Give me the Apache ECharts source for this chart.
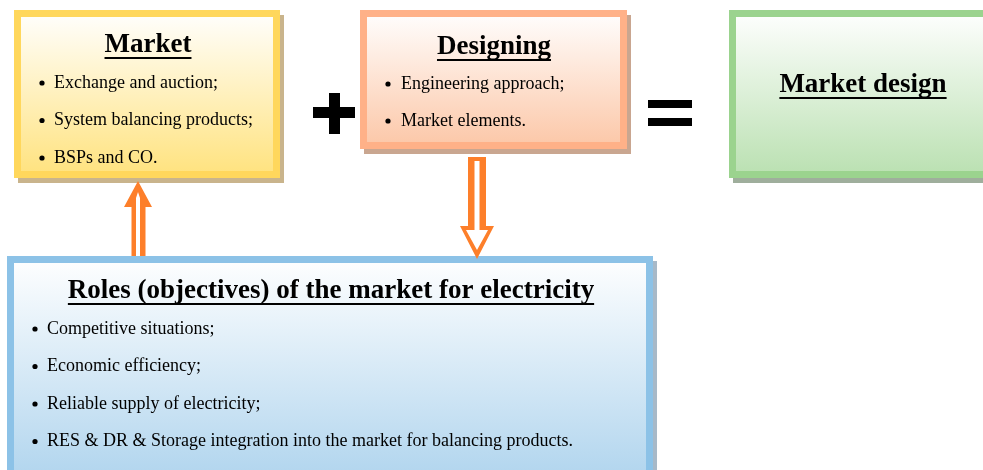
<!DOCTYPE html>
<html>
<head>
<meta charset="utf-8">
<script src="https://cdn.jsdelivr.net/npm/echarts@6/dist/echarts.min.js"></script>
<style>
  html, body { margin: 0; padding: 0; background: #fff; }
  #main { width: 983px; height: 470px; }
</style>
</head>
<body>
<div id="main"></div>
<script>
// texts of the diagram
var marketTitle = 'Market'
var marketItems = ['Exchange and auction;', 'System balancing products;', 'BSPs and CO.']
var designTitle = 'Designing'
var designItems = ['Engineering approach;', 'Market elements.']
var resultTitle = 'Market design'
var rolesTitle = 'Roles (objectives) of the market for electricity'
var rolesItems = [
  'Competitive situations;',
  'Economic efficiency;',
  'Reliable supply of electricity;',
  'RES & DR & Storage integration into the market for balancing products.'
]

var FONT = '"Liberation Serif", "Times New Roman", serif'
var ORANGE = '#fd7f2a'

var ctx = document.createElement('canvas').getContext('2d')
function textWidth(txt, size, weight) {
  ctx.font = weight + ' ' + size + 'px ' + FONT
  return ctx.measureText(txt).width
}

var elements = []

// box with border, shadow and vertical gradient
function box(x, y, w, h, border, bottom, shadow) {
  var bw = 7
  elements.push({
    type: 'rect', silent: true,
    shape: { x: x + 4, y: y + 5, width: w, height: h },
    style: { fill: shadow }
  })
  elements.push({
    type: 'rect', silent: true,
    shape: { x: x + bw / 2, y: y + bw / 2, width: w - bw, height: h - bw },
    style: {
      fill: new echarts.graphic.LinearGradient(0, 0, 0, 1, [
        { offset: 0, color: '#ffffff' },
        { offset: 1, color: bottom }
      ]),
      stroke: border, lineWidth: bw
    }
  })
}

// bold underlined title, centred on cx, baseline at by
function title(txt, cx, by, size) {
  var w = textWidth(txt, size, 'bold')
  elements.push({
    type: 'text', silent: true,
    style: {
      text: txt, x: cx, y: by, fill: '#000',
      fontFamily: FONT, fontSize: size, fontWeight: 'bold',
      align: 'center', verticalAlign: 'bottom'
    }
  })
  elements.push({
    type: 'rect', silent: true,
    shape: { x: cx - w / 2, y: by - 2, width: w, height: 2 },
    style: { fill: '#000' }
  })
}

function bullets(items, bx, tx, y0, step, size) {
  items.forEach(function (t, i) {
    var y = y0 + i * step
    elements.push({
      type: 'circle', silent: true,
      shape: { cx: bx, cy: y, r: 2.6 },
      style: { fill: '#000' }
    })
    elements.push({
      type: 'text', silent: true,
      style: {
        text: t, x: tx, y: y, fill: '#000',
        fontFamily: FONT, fontSize: size,
        align: 'left', verticalAlign: 'middle'
      }
    })
  })
}

// Market
box(14, 10, 266, 168, '#ffd75c', '#ffe27c', '#c9b48c')
title(marketTitle, 148, 59, 27)
bullets(marketItems, 42, 54, 83, 37.5, 18)

// Designing
box(360, 10, 267, 139, '#ffb188', '#fcc6a6', '#c9a690')
title(designTitle, 494, 61, 27)
bullets(designItems, 388, 401, 84, 37, 18)

// Market design
box(729, 10, 262, 168, '#9bd38e', '#b9e0b0', '#9fae9c')
title(resultTitle, 863, 99, 27)

// Roles
box(7, 256, 646, 222, '#8cc2e7', '#b1d5ee', '#a7b9c8')
title(rolesTitle, 331, 305, 27)
bullets(rolesItems, 35, 47, 329, 37.5, 18)

// plus and equals
elements.push(
  { type: 'rect', silent: true, shape: { x: 313, y: 107, width: 42, height: 11 }, style: { fill: '#000' } },
  { type: 'rect', silent: true, shape: { x: 329, y: 93, width: 11, height: 41 }, style: { fill: '#000' } },
  { type: 'rect', silent: true, shape: { x: 648, y: 100, width: 44, height: 8 }, style: { fill: '#000' } },
  { type: 'rect', silent: true, shape: { x: 648, y: 118, width: 44, height: 8 }, style: { fill: '#000' } }
)

// up arrow (Roles -> Market)
elements.push(
  { type: 'polygon', silent: true,
    shape: { points: [[138, 181], [152, 207], [145.5, 207], [145.5, 256], [131.5, 256], [131.5, 207], [124, 207]] },
    style: { fill: ORANGE } },
  { type: 'polygon', silent: true,
    shape: { points: [[138, 192], [140, 198], [140, 256], [136, 256], [136, 198]] },
    style: { fill: '#fff' } }
)
// down arrow (Designing -> Roles)
elements.push(
  { type: 'polygon', silent: true,
    shape: { points: [[468, 157], [486, 157], [486, 226], [494, 226], [477, 259], [460, 226], [468, 226]] },
    style: { fill: ORANGE } },
  { type: 'polygon', silent: true,
    shape: { points: [[474.5, 161], [479.5, 161], [479.5, 230], [488, 230], [477, 250], [466, 230], [474.5, 230]] },
    style: { fill: '#fff' } }
)

var chart = echarts.init(document.getElementById('main'), null, { renderer: 'canvas' })
chart.setOption({
  backgroundColor: '#fff',
  animation: false,
  graphic: { elements: elements }
})
</script>
</body>
</html>
